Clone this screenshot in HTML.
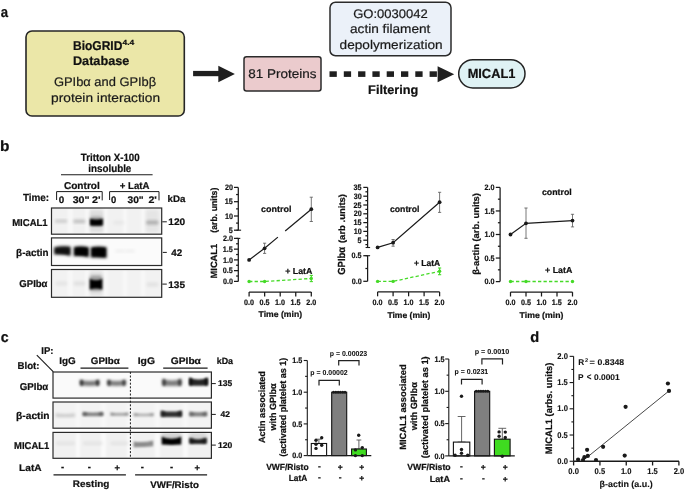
<!DOCTYPE html>
<html><head><meta charset="utf-8"><title>Figure</title>
<style>html,body{margin:0;padding:0;background:#fff;width:685px;height:491px;overflow:hidden}svg{display:block}</style>
</head><body>
<svg width="685" height="491" viewBox="0 0 685 491" font-family="'Liberation Sans', Arial, sans-serif" font-weight="700" text-rendering="geometricPrecision">
<defs>
<filter id="bl1" x="-50%" y="-50%" width="200%" height="200%"><feGaussianBlur stdDeviation="1.2"/></filter>
<filter id="bl2" x="-50%" y="-50%" width="200%" height="200%"><feGaussianBlur stdDeviation="1.8"/></filter>
<filter id="bl15" x="-50%" y="-50%" width="200%" height="200%"><feGaussianBlur stdDeviation="1.5"/></filter>
<filter id="bl3" x="-50%" y="-50%" width="200%" height="200%"><feGaussianBlur stdDeviation="0.7"/></filter>
</defs>
<text x="0.81" y="16.6" font-size="14.8" textLength="7.31" lengthAdjust="spacingAndGlyphs" fill="#111" stroke="#111" stroke-width="0.22">a</text>
<rect x="26" y="31" width="158.3" height="85" rx="6" fill="#EBE7A8" stroke="#262626" stroke-width="1.6"/>
<text x="72.99" y="49.5" font-size="12.8" textLength="49.4" lengthAdjust="spacingAndGlyphs" fill="#111" stroke="#111" stroke-width="0.22">BioGRID</text>
<text x="122.47" y="44.9" font-size="7.3" textLength="11.77" lengthAdjust="spacingAndGlyphs" fill="#111" stroke="#111" stroke-width="0.22">4.4</text>
<text x="72.94" y="64.5" font-size="12.5" textLength="56.39" lengthAdjust="spacingAndGlyphs" fill="#111" stroke="#111" stroke-width="0.22">Database</text>
<text x="53.96" y="86.1" font-size="12.5" font-weight="400" textLength="102.26" lengthAdjust="spacingAndGlyphs" fill="#1a1a1a" stroke="#1a1a1a" stroke-width="0.2">GPIbα and GPIbβ</text>
<text x="51.11" y="101.9" font-size="12.5" font-weight="400" textLength="108.98" lengthAdjust="spacingAndGlyphs" fill="#1a1a1a" stroke="#1a1a1a" stroke-width="0.2">protein interaction</text>
<rect x="193.1" y="70.9" width="26" height="5.3" rx="0" fill="#1f1f1f" stroke="none" stroke-width="0"/>
<polygon points="218.3,65.7 234.9,74 218.3,82.3" fill="#1f1f1f"/>
<rect x="244" y="56.75" width="77" height="34.3" rx="2.5" fill="#EBCBCD" stroke="#2b2b2b" stroke-width="1.5"/>
<text x="248.33" y="78" font-size="12.6" font-weight="400" textLength="68.13" lengthAdjust="spacingAndGlyphs" fill="#1a1a1a" stroke="#1a1a1a" stroke-width="0.2">81 Proteins</text>
<rect x="330" y="2.25" width="121" height="53.5" rx="5.5" fill="#EBF1F9" stroke="#2b2b2b" stroke-width="1.5"/>
<text x="353.15" y="18" font-size="12.5" font-weight="400" textLength="74.63" lengthAdjust="spacingAndGlyphs" fill="#1a1a1a" stroke="#1a1a1a" stroke-width="0.2">GO:0030042</text>
<text x="350.02" y="33.2" font-size="12.5" font-weight="400" textLength="80.37" lengthAdjust="spacingAndGlyphs" fill="#1a1a1a" stroke="#1a1a1a" stroke-width="0.2">actin filament</text>
<text x="339.62" y="49" font-size="12.5" font-weight="400" textLength="102.96" lengthAdjust="spacingAndGlyphs" fill="#1a1a1a" stroke="#1a1a1a" stroke-width="0.2">depolymerization</text>
<rect x="329.5" y="71.3" width="7.3" height="5.6" rx="0" fill="#1f1f1f" stroke="none" stroke-width="0"/>
<rect x="343.8" y="71.3" width="7.3" height="5.6" rx="0" fill="#1f1f1f" stroke="none" stroke-width="0"/>
<rect x="358.1" y="71.3" width="7.3" height="5.6" rx="0" fill="#1f1f1f" stroke="none" stroke-width="0"/>
<rect x="372.4" y="71.3" width="7.3" height="5.6" rx="0" fill="#1f1f1f" stroke="none" stroke-width="0"/>
<rect x="386.7" y="71.3" width="7.3" height="5.6" rx="0" fill="#1f1f1f" stroke="none" stroke-width="0"/>
<rect x="401" y="71.3" width="7.3" height="5.6" rx="0" fill="#1f1f1f" stroke="none" stroke-width="0"/>
<rect x="415.3" y="71.3" width="7.3" height="5.6" rx="0" fill="#1f1f1f" stroke="none" stroke-width="0"/>
<rect x="429.6" y="71.3" width="7.3" height="5.6" rx="0" fill="#1f1f1f" stroke="none" stroke-width="0"/>
<polygon points="437.6,66.3 454.2,74.2 437.6,82.3" fill="#1f1f1f"/>
<text x="368.14" y="93.8" font-size="12.5" textLength="50.11" lengthAdjust="spacingAndGlyphs" fill="#111" stroke="#111" stroke-width="0.22">Filtering</text>
<rect x="458.7" y="59.7" width="66.3" height="28.2" rx="14.1" fill="#DFF2F4" stroke="#222" stroke-width="1.5"/>
<text x="467.63" y="77.9" font-size="13.2" textLength="47.75" lengthAdjust="spacingAndGlyphs" fill="#111" stroke="#111" stroke-width="0.22">MICAL1</text>
<text x="0.1" y="150.9" font-size="14.8" textLength="9.44" lengthAdjust="spacingAndGlyphs" fill="#111" stroke="#111" stroke-width="0.22">b</text>
<text x="80.8" y="160.9" font-size="10.5" textLength="58.9" lengthAdjust="spacingAndGlyphs" fill="#111" stroke="#111" stroke-width="0.22">Tritton X-100</text>
<text x="88.31" y="171.9" font-size="10.5" textLength="43.02" lengthAdjust="spacingAndGlyphs" fill="#111" stroke="#111" stroke-width="0.22">insoluble</text>
<line x1="61" y1="174.7" x2="152.6" y2="174.7" stroke="#1a1a1a" stroke-width="1.1"/>
<text x="63.9" y="188.9" font-size="10" textLength="35.91" lengthAdjust="spacingAndGlyphs" fill="#111" stroke="#111" stroke-width="0.22">Control</text>
<text x="119.69" y="188.9" font-size="10" textLength="29.77" lengthAdjust="spacingAndGlyphs" fill="#111" stroke="#111" stroke-width="0.22">+ LatA</text>
<path d="M56.6,200 V191.6 H102.2 V200.4" stroke="#1a1a1a" stroke-width="1" fill="none"/>
<path d="M109.6,200 V191.6 H159.0 V200.4" stroke="#1a1a1a" stroke-width="1" fill="none"/>
<text x="22.9" y="201.1" font-size="10.3" textLength="26.26" lengthAdjust="spacingAndGlyphs" fill="#111" stroke="#111" stroke-width="0.22">Time:</text>
<text x="58.8" y="202.8" font-size="9.5" textLength="5.5" lengthAdjust="spacingAndGlyphs" fill="#111" stroke="#111" stroke-width="0.22">0</text>
<text x="72.66" y="202.8" font-size="9.5" textLength="16.95" lengthAdjust="spacingAndGlyphs" fill="#111" stroke="#111" stroke-width="0.22">30"</text>
<text x="92.12" y="202.8" font-size="9.5" textLength="8.56" lengthAdjust="spacingAndGlyphs" fill="#111" stroke="#111" stroke-width="0.22">2'</text>
<text x="110.92" y="202.8" font-size="9.5" textLength="5.27" lengthAdjust="spacingAndGlyphs" fill="#111" stroke="#111" stroke-width="0.22">0</text>
<text x="127.47" y="202.8" font-size="9.5" textLength="16.21" lengthAdjust="spacingAndGlyphs" fill="#111" stroke="#111" stroke-width="0.22">30"</text>
<text x="148.43" y="202.8" font-size="9.5" textLength="8.45" lengthAdjust="spacingAndGlyphs" fill="#111" stroke="#111" stroke-width="0.22">2'</text>
<text x="167.62" y="202.2" font-size="9.5" textLength="17.83" lengthAdjust="spacingAndGlyphs" fill="#111" stroke="#111" stroke-width="0.22">kDa</text>
<rect x="51.2" y="207.6" width="111" height="26.7" rx="0" fill="#f1f1f1" stroke="none" stroke-width="0"/>
<rect x="67.8" y="208.6" width="4.8" height="24.7" fill="#f8f8f8" filter="url(#bl1)"/>
<rect x="85.2" y="208.6" width="4.4" height="24.7" fill="#f8f8f8" filter="url(#bl1)"/>
<rect x="103.6" y="208.6" width="4.4" height="24.7" fill="#f8f8f8" filter="url(#bl1)"/>
<rect x="123" y="208.6" width="4" height="24.7" fill="#f8f8f8" filter="url(#bl1)"/>
<rect x="141" y="208.6" width="4" height="24.7" fill="#f8f8f8" filter="url(#bl1)"/>
<rect x="51.2" y="237.7" width="111" height="28.1" rx="0" fill="#fbfbfb" stroke="none" stroke-width="0"/>
<rect x="51.2" y="269.3" width="111" height="28.2" rx="0" fill="#f2f2f2" stroke="none" stroke-width="0"/>
<rect x="67.8" y="270.3" width="4.8" height="26.2" fill="#f8f8f8" filter="url(#bl1)"/>
<rect x="85.2" y="270.3" width="4.4" height="26.2" fill="#f8f8f8" filter="url(#bl1)"/>
<rect x="103.6" y="270.3" width="4.4" height="26.2" fill="#f8f8f8" filter="url(#bl1)"/>
<rect x="123" y="270.3" width="4" height="26.2" fill="#f8f8f8" filter="url(#bl1)"/>
<rect x="141" y="270.3" width="4" height="26.2" fill="#f8f8f8" filter="url(#bl1)"/>
<rect x="89.6" y="210" width="13.6" height="22" rx="2" fill="#000" fill-opacity="0.08" filter="url(#bl2)"/>
<rect x="54.8" y="219.6" width="12.6" height="3.2" rx="1.5" fill="#000" fill-opacity="0.16" filter="url(#bl2)"/>
<rect x="73.2" y="219.6" width="12.2" height="3.6" rx="1.5" fill="#000" fill-opacity="0.2" filter="url(#bl2)"/>
<rect x="89.8" y="216.5" width="13.2" height="9.5" rx="3" fill="#000" fill-opacity="0.25" filter="url(#bl2)"/>
<path d="M90.0,218.8 Q96.4,220.4 102.8,218.8 L102.8,225.4 Q96.4,226 90.0,225.4 Z" fill="#000" fill-opacity="1" filter="url(#bl1)"/>
<rect x="146" y="220.6" width="12.6" height="3.8" rx="1.5" fill="#000" fill-opacity="0.24" filter="url(#bl2)"/>
<rect x="146" y="210" width="12.6" height="22" rx="2" fill="#000" fill-opacity="0.05" filter="url(#bl2)"/>
<rect x="113" y="220.8" width="12" height="3.8" rx="2" fill="#000" fill-opacity="0.04" filter="url(#bl2)"/>
<path d="M54.0,247.2 Q62,245.4 70.6,246.4 L70.6,256.0 Q62,254.2 54.0,254.6 Z" fill="#000" fill-opacity="0.88" filter="url(#bl15)"/>
<path d="M73.8,247.0 Q81,245.6 88.8,247.2 L88.8,257.2 Q81,255.8 73.8,256.2 Z" fill="#000" fill-opacity="1" filter="url(#bl15)"/>
<path d="M90.8,247.2 Q98.6,246.0 106.6,247.2 L106.6,258.0 Q98.6,257.2 90.8,257.6 Z" fill="#000" fill-opacity="1" filter="url(#bl15)"/>
<path d="M56,248.6 L69.6,248.2 L69.6,254.2 L56,253.2 Z" fill="#000" fill-opacity="0.5" filter="url(#bl1)"/>
<path d="M75.5,248.4 L87.5,248.4 L87.5,255.2 L75.5,254.6 Z" fill="#000" fill-opacity="0.6" filter="url(#bl1)"/>
<path d="M92.5,248.4 L105,248.4 L105,256 L92.5,255.6 Z" fill="#000" fill-opacity="0.6" filter="url(#bl1)"/>
<rect x="115" y="249.5" width="10" height="3" rx="2" fill="#000" fill-opacity="0.05" filter="url(#bl2)"/>
<rect x="125" y="249.5" width="10" height="3" rx="2" fill="#000" fill-opacity="0.05" filter="url(#bl2)"/>
<rect x="89.5" y="271" width="13" height="25" rx="2" fill="#000" fill-opacity="0.06" filter="url(#bl2)"/>
<rect x="89.6" y="275.5" width="12.8" height="15.5" rx="2.5" fill="#000" fill-opacity="0.3" filter="url(#bl2)"/>
<path d="M89.8,278.8 Q96,281.8 102.2,278.8 L102.2,289.4 Q96,287.4 89.8,289.4 Z" fill="#000" fill-opacity="1" filter="url(#bl1)"/>
<rect x="55.5" y="281.5" width="12" height="4" rx="2" fill="#000" fill-opacity="0.06" filter="url(#bl2)"/>
<rect x="73.5" y="281.5" width="12" height="4" rx="2" fill="#000" fill-opacity="0.08" filter="url(#bl2)"/>
<rect x="146.5" y="282.5" width="12" height="4" rx="2" fill="#000" fill-opacity="0.07" filter="url(#bl2)"/>
<rect x="51.5" y="208" width="110.2" height="26.2" rx="0" fill="none" stroke="#2b2b2b" stroke-width="1.2"/>
<rect x="51.5" y="237.9" width="110.2" height="27.6" rx="0" fill="none" stroke="#2b2b2b" stroke-width="1.2"/>
<rect x="51.5" y="269.5" width="110.2" height="27.8" rx="0" fill="none" stroke="#2b2b2b" stroke-width="1.2"/>
<text x="12.16" y="225.9" font-size="10" textLength="35.53" lengthAdjust="spacingAndGlyphs" fill="#111" stroke="#111" stroke-width="0.22">MICAL1</text>
<text x="16.11" y="255.8" font-size="10" textLength="32.38" lengthAdjust="spacingAndGlyphs" fill="#111" stroke="#111" stroke-width="0.22">β-actin</text>
<text x="19.32" y="287.3" font-size="10" textLength="28.19" lengthAdjust="spacingAndGlyphs" fill="#111" stroke="#111" stroke-width="0.22">GPIbα</text>
<line x1="162.3" y1="221.8" x2="166.8" y2="221.8" stroke="#1a1a1a" stroke-width="1"/>
<text x="168.27" y="225.2" font-size="9.5" textLength="16.95" lengthAdjust="spacingAndGlyphs" fill="#111" stroke="#111" stroke-width="0.22">120</text>
<line x1="162.8" y1="252.4" x2="166.8" y2="252.4" stroke="#1a1a1a" stroke-width="1"/>
<text x="171.25" y="255.9" font-size="9.5" textLength="10.94" lengthAdjust="spacingAndGlyphs" fill="#111" stroke="#111" stroke-width="0.22">42</text>
<line x1="162.3" y1="284.1" x2="166.8" y2="284.1" stroke="#1a1a1a" stroke-width="1"/>
<text x="168.27" y="287.9" font-size="9.5" textLength="16.82" lengthAdjust="spacingAndGlyphs" fill="#111" stroke="#111" stroke-width="0.22">135</text>
<line x1="238.3" y1="187.4" x2="238.3" y2="230.2" stroke="#1a1a1a" stroke-width="1.25"/>
<line x1="234" y1="187.4" x2="238.3" y2="187.4" stroke="#1a1a1a" stroke-width="1.25"/>
<line x1="234" y1="201.7" x2="238.3" y2="201.7" stroke="#1a1a1a" stroke-width="1.25"/>
<line x1="234" y1="216" x2="238.3" y2="216" stroke="#1a1a1a" stroke-width="1.25"/>
<line x1="234" y1="230.2" x2="238.3" y2="230.2" stroke="#1a1a1a" stroke-width="1.25"/>
<line x1="236.1" y1="194.55" x2="238.3" y2="194.55" stroke="#1a1a1a" stroke-width="1.25"/>
<line x1="236.1" y1="208.85" x2="238.3" y2="208.85" stroke="#1a1a1a" stroke-width="1.25"/>
<line x1="236.1" y1="223.1" x2="238.3" y2="223.1" stroke="#1a1a1a" stroke-width="1.25"/>
<line x1="236.5" y1="230.2" x2="241.1" y2="230.2" stroke="#1a1a1a" stroke-width="1.1"/>
<line x1="238.3" y1="238.4" x2="238.3" y2="281.4" stroke="#1a1a1a" stroke-width="1.25"/>
<line x1="234" y1="238.4" x2="238.3" y2="238.4" stroke="#1a1a1a" stroke-width="1.25"/>
<line x1="234" y1="249.15" x2="238.3" y2="249.15" stroke="#1a1a1a" stroke-width="1.25"/>
<line x1="234" y1="259.9" x2="238.3" y2="259.9" stroke="#1a1a1a" stroke-width="1.25"/>
<line x1="234" y1="270.65" x2="238.3" y2="270.65" stroke="#1a1a1a" stroke-width="1.25"/>
<line x1="234" y1="281.4" x2="238.3" y2="281.4" stroke="#1a1a1a" stroke-width="1.25"/>
<line x1="236.1" y1="243.78" x2="238.3" y2="243.78" stroke="#1a1a1a" stroke-width="1.25"/>
<line x1="236.1" y1="254.53" x2="238.3" y2="254.53" stroke="#1a1a1a" stroke-width="1.25"/>
<line x1="236.1" y1="265.27" x2="238.3" y2="265.27" stroke="#1a1a1a" stroke-width="1.25"/>
<line x1="236.1" y1="276.02" x2="238.3" y2="276.02" stroke="#1a1a1a" stroke-width="1.25"/>
<line x1="236.3" y1="238.4" x2="240.3" y2="238.4" stroke="#1a1a1a" stroke-width="1.1"/>
<text x="224.9" y="190.05" font-size="7.92" textLength="8.01" lengthAdjust="spacingAndGlyphs" fill="#111" stroke="#111" stroke-width="0.2">20</text>
<text x="224.81" y="204.35" font-size="7.92" textLength="8.01" lengthAdjust="spacingAndGlyphs" fill="#111" stroke="#111" stroke-width="0.2">15</text>
<text x="224.9" y="218.65" font-size="7.92" textLength="8.01" lengthAdjust="spacingAndGlyphs" fill="#111" stroke="#111" stroke-width="0.2">10</text>
<text x="228.8" y="232.85" font-size="7.92" textLength="4" lengthAdjust="spacingAndGlyphs" fill="#111" stroke="#111" stroke-width="0.2">5</text>
<text x="222.88" y="241.05" font-size="7.92" textLength="10.01" lengthAdjust="spacingAndGlyphs" fill="#111" stroke="#111" stroke-width="0.2">2.0</text>
<text x="222.79" y="251.8" font-size="7.92" textLength="10.01" lengthAdjust="spacingAndGlyphs" fill="#111" stroke="#111" stroke-width="0.2">1.5</text>
<text x="222.88" y="262.55" font-size="7.92" textLength="10.01" lengthAdjust="spacingAndGlyphs" fill="#111" stroke="#111" stroke-width="0.2">1.0</text>
<text x="222.79" y="273.3" font-size="7.92" textLength="10.01" lengthAdjust="spacingAndGlyphs" fill="#111" stroke="#111" stroke-width="0.2">0.5</text>
<text x="222.88" y="284.05" font-size="7.92" textLength="10.01" lengthAdjust="spacingAndGlyphs" fill="#111" stroke="#111" stroke-width="0.2">0.0</text>
<line x1="249.1" y1="292" x2="311.3" y2="292" stroke="#1a1a1a" stroke-width="1.25"/>
<line x1="249.1" y1="292" x2="249.1" y2="296.4" stroke="#1a1a1a" stroke-width="1.25"/>
<line x1="264.65" y1="292" x2="264.65" y2="296.4" stroke="#1a1a1a" stroke-width="1.25"/>
<line x1="280.2" y1="292" x2="280.2" y2="296.4" stroke="#1a1a1a" stroke-width="1.25"/>
<line x1="295.75" y1="292" x2="295.75" y2="296.4" stroke="#1a1a1a" stroke-width="1.25"/>
<line x1="311.3" y1="292" x2="311.3" y2="296.4" stroke="#1a1a1a" stroke-width="1.25"/>
<text x="244.1" y="305.1" font-size="7.92" textLength="10.01" lengthAdjust="spacingAndGlyphs" fill="#111" stroke="#111" stroke-width="0.2">0.0</text>
<text x="259.6" y="305.1" font-size="7.92" textLength="10.01" lengthAdjust="spacingAndGlyphs" fill="#111" stroke="#111" stroke-width="0.2">0.5</text>
<text x="275.12" y="305.1" font-size="7.92" textLength="10.01" lengthAdjust="spacingAndGlyphs" fill="#111" stroke="#111" stroke-width="0.2">1.0</text>
<text x="290.62" y="305.1" font-size="7.92" textLength="10.01" lengthAdjust="spacingAndGlyphs" fill="#111" stroke="#111" stroke-width="0.2">1.5</text>
<text x="306.31" y="305.1" font-size="7.92" textLength="10.01" lengthAdjust="spacingAndGlyphs" fill="#111" stroke="#111" stroke-width="0.2">2.0</text>
<text x="258.61" y="317.4" font-size="8.4" textLength="43.42" lengthAdjust="spacingAndGlyphs" fill="#111" stroke="#111" stroke-width="0.22">Time (min)</text>
<text transform="translate(217.2 277.8) rotate(-90)" x="-0.63" y="0" font-size="9" textLength="34.6" lengthAdjust="spacingAndGlyphs" fill="#111" stroke="#111" stroke-width="0.22">MICAL1</text>
<text transform="translate(217.2 232.2) rotate(-90)" x="-0.44" y="0" font-size="9" textLength="44.99" lengthAdjust="spacingAndGlyphs" fill="#111" stroke="#111" stroke-width="0.22">(arb. units)</text>
<line x1="264.6" y1="243.2" x2="264.6" y2="253.4" stroke="#555" stroke-width="0.8"/>
<line x1="263" y1="243.2" x2="266.2" y2="243.2" stroke="#555" stroke-width="0.8"/>
<line x1="263" y1="253.4" x2="266.2" y2="253.4" stroke="#555" stroke-width="0.8"/>
<line x1="311.3" y1="197.2" x2="311.3" y2="221.5" stroke="#555" stroke-width="0.8"/>
<line x1="309.7" y1="197.2" x2="312.9" y2="197.2" stroke="#555" stroke-width="0.8"/>
<line x1="309.7" y1="221.5" x2="312.9" y2="221.5" stroke="#555" stroke-width="0.8"/>
<polyline points="249.1,259.9 264.6,248.3 277.9,237.1" fill="none" stroke="#1a1a1a" stroke-width="1.2"/>
<polyline points="285.2,231 311.3,209.2" fill="none" stroke="#1a1a1a" stroke-width="1.2"/>
<circle cx="249.1" cy="259.9" r="1.9" fill="#1a1a1a"/>
<circle cx="264.6" cy="248.3" r="1.9" fill="#1a1a1a"/>
<circle cx="311.3" cy="209.2" r="1.9" fill="#1a1a1a"/>
<line x1="311.3" y1="275.4" x2="311.3" y2="281.6" stroke="#45DA27" stroke-width="1.1"/>
<line x1="309.7" y1="275.4" x2="312.9" y2="275.4" stroke="#45DA27" stroke-width="1.1"/>
<line x1="309.7" y1="281.6" x2="312.9" y2="281.6" stroke="#45DA27" stroke-width="1.1"/>
<polyline points="249.1,281.5 264.6,281.5 311.3,278.5" fill="none" stroke="#45DA27" stroke-width="1.3" stroke-dasharray="3.3 2.2"/>
<circle cx="249.1" cy="281.5" r="1.7" fill="#45DA27"/>
<circle cx="264.6" cy="281.5" r="1.7" fill="#45DA27"/>
<circle cx="311.3" cy="278.5" r="1.7" fill="#45DA27"/>
<text x="261.04" y="212.4" font-size="8.7" textLength="30.4" lengthAdjust="spacingAndGlyphs" fill="#111" stroke="#111" stroke-width="0.22">control</text>
<text x="285.23" y="274" font-size="8.7" textLength="27.11" lengthAdjust="spacingAndGlyphs" fill="#111" stroke="#111" stroke-width="0.22">+ LatA</text>
<line x1="367.6" y1="187.4" x2="367.6" y2="247.5" stroke="#1a1a1a" stroke-width="1.25"/>
<line x1="363.3" y1="187.4" x2="367.6" y2="187.4" stroke="#1a1a1a" stroke-width="1.25"/>
<line x1="363.3" y1="196.2" x2="367.6" y2="196.2" stroke="#1a1a1a" stroke-width="1.25"/>
<line x1="363.3" y1="205" x2="367.6" y2="205" stroke="#1a1a1a" stroke-width="1.25"/>
<line x1="363.3" y1="213.8" x2="367.6" y2="213.8" stroke="#1a1a1a" stroke-width="1.25"/>
<line x1="363.3" y1="222.6" x2="367.6" y2="222.6" stroke="#1a1a1a" stroke-width="1.25"/>
<line x1="363.3" y1="231.4" x2="367.6" y2="231.4" stroke="#1a1a1a" stroke-width="1.25"/>
<line x1="363.3" y1="240.2" x2="367.6" y2="240.2" stroke="#1a1a1a" stroke-width="1.25"/>
<line x1="365.4" y1="191.8" x2="367.6" y2="191.8" stroke="#1a1a1a" stroke-width="1.25"/>
<line x1="365.4" y1="200.6" x2="367.6" y2="200.6" stroke="#1a1a1a" stroke-width="1.25"/>
<line x1="365.4" y1="209.4" x2="367.6" y2="209.4" stroke="#1a1a1a" stroke-width="1.25"/>
<line x1="365.4" y1="218.2" x2="367.6" y2="218.2" stroke="#1a1a1a" stroke-width="1.25"/>
<line x1="365.4" y1="227" x2="367.6" y2="227" stroke="#1a1a1a" stroke-width="1.25"/>
<line x1="365.4" y1="235.8" x2="367.6" y2="235.8" stroke="#1a1a1a" stroke-width="1.25"/>
<line x1="365.4" y1="244.6" x2="367.6" y2="244.6" stroke="#1a1a1a" stroke-width="1.25"/>
<line x1="365.6" y1="247.5" x2="370.1" y2="247.5" stroke="#1a1a1a" stroke-width="1.1"/>
<text x="353.61" y="190.05" font-size="7.92" textLength="8.01" lengthAdjust="spacingAndGlyphs" fill="#111" stroke="#111" stroke-width="0.2">35</text>
<text x="353.7" y="198.85" font-size="7.92" textLength="8.01" lengthAdjust="spacingAndGlyphs" fill="#111" stroke="#111" stroke-width="0.2">30</text>
<text x="353.61" y="207.65" font-size="7.92" textLength="8.01" lengthAdjust="spacingAndGlyphs" fill="#111" stroke="#111" stroke-width="0.2">25</text>
<text x="353.7" y="216.45" font-size="7.92" textLength="8.01" lengthAdjust="spacingAndGlyphs" fill="#111" stroke="#111" stroke-width="0.2">20</text>
<text x="353.61" y="225.25" font-size="7.92" textLength="8.01" lengthAdjust="spacingAndGlyphs" fill="#111" stroke="#111" stroke-width="0.2">15</text>
<text x="353.7" y="234.05" font-size="7.92" textLength="8.01" lengthAdjust="spacingAndGlyphs" fill="#111" stroke="#111" stroke-width="0.2">10</text>
<text x="357.6" y="242.85" font-size="7.92" textLength="4" lengthAdjust="spacingAndGlyphs" fill="#111" stroke="#111" stroke-width="0.2">5</text>
<line x1="367.6" y1="255.7" x2="367.6" y2="281.3" stroke="#1a1a1a" stroke-width="1.25"/>
<line x1="363.3" y1="255.7" x2="367.6" y2="255.7" stroke="#1a1a1a" stroke-width="1.25"/>
<line x1="363.3" y1="281.3" x2="367.6" y2="281.3" stroke="#1a1a1a" stroke-width="1.25"/>
<line x1="365.4" y1="268.5" x2="367.6" y2="268.5" stroke="#1a1a1a" stroke-width="1.25"/>
<line x1="365.6" y1="255.7" x2="370.1" y2="255.7" stroke="#1a1a1a" stroke-width="1.1"/>
<text x="351.59" y="258.35" font-size="7.92" textLength="10.01" lengthAdjust="spacingAndGlyphs" fill="#111" stroke="#111" stroke-width="0.2">0.5</text>
<text x="351.68" y="283.95" font-size="7.92" textLength="10.01" lengthAdjust="spacingAndGlyphs" fill="#111" stroke="#111" stroke-width="0.2">0.0</text>
<line x1="377.6" y1="291.9" x2="439.6" y2="291.9" stroke="#1a1a1a" stroke-width="1.25"/>
<line x1="377.6" y1="291.9" x2="377.6" y2="296.3" stroke="#1a1a1a" stroke-width="1.25"/>
<line x1="393.1" y1="291.9" x2="393.1" y2="296.3" stroke="#1a1a1a" stroke-width="1.25"/>
<line x1="408.6" y1="291.9" x2="408.6" y2="296.3" stroke="#1a1a1a" stroke-width="1.25"/>
<line x1="424.1" y1="291.9" x2="424.1" y2="296.3" stroke="#1a1a1a" stroke-width="1.25"/>
<line x1="439.6" y1="291.9" x2="439.6" y2="296.3" stroke="#1a1a1a" stroke-width="1.25"/>
<text x="372.6" y="305.2" font-size="7.92" textLength="10.01" lengthAdjust="spacingAndGlyphs" fill="#111" stroke="#111" stroke-width="0.2">0.0</text>
<text x="388.05" y="305.2" font-size="7.92" textLength="10.01" lengthAdjust="spacingAndGlyphs" fill="#111" stroke="#111" stroke-width="0.2">0.5</text>
<text x="403.52" y="305.2" font-size="7.92" textLength="10.01" lengthAdjust="spacingAndGlyphs" fill="#111" stroke="#111" stroke-width="0.2">1.0</text>
<text x="418.97" y="305.2" font-size="7.92" textLength="10.01" lengthAdjust="spacingAndGlyphs" fill="#111" stroke="#111" stroke-width="0.2">1.5</text>
<text x="434.61" y="305.2" font-size="7.92" textLength="10.01" lengthAdjust="spacingAndGlyphs" fill="#111" stroke="#111" stroke-width="0.2">2.0</text>
<text x="387.41" y="317.5" font-size="8.4" textLength="43.01" lengthAdjust="spacingAndGlyphs" fill="#111" stroke="#111" stroke-width="0.22">Time (min)</text>
<text transform="translate(345.4 274.4) rotate(-90)" x="-0.38" y="0" font-size="10.3" textLength="27.88" lengthAdjust="spacingAndGlyphs" fill="#111" stroke="#111" stroke-width="0.22">GPIbα</text>
<text transform="translate(345.2 242.6) rotate(-90)" x="-0.47" y="0" font-size="9" textLength="49.07" lengthAdjust="spacingAndGlyphs" fill="#111" stroke="#111" stroke-width="0.22">(arb .units)</text>
<line x1="393.1" y1="239.5" x2="393.1" y2="246.2" stroke="#555" stroke-width="0.8"/>
<line x1="391.5" y1="239.5" x2="394.7" y2="239.5" stroke="#555" stroke-width="0.8"/>
<line x1="391.5" y1="246.2" x2="394.7" y2="246.2" stroke="#555" stroke-width="0.8"/>
<line x1="439.6" y1="192.3" x2="439.6" y2="212.4" stroke="#555" stroke-width="0.8"/>
<line x1="438" y1="192.3" x2="441.2" y2="192.3" stroke="#555" stroke-width="0.8"/>
<line x1="438" y1="212.4" x2="441.2" y2="212.4" stroke="#555" stroke-width="0.8"/>
<polyline points="377.6,247.4 393.1,242.7 439.6,202.2" fill="none" stroke="#1a1a1a" stroke-width="1.2"/>
<circle cx="377.6" cy="247.4" r="1.9" fill="#1a1a1a"/>
<circle cx="393.1" cy="242.7" r="1.9" fill="#1a1a1a"/>
<circle cx="439.6" cy="202.2" r="1.9" fill="#1a1a1a"/>
<line x1="439.6" y1="268" x2="439.6" y2="274.7" stroke="#45DA27" stroke-width="1.1"/>
<line x1="438" y1="268" x2="441.2" y2="268" stroke="#45DA27" stroke-width="1.1"/>
<line x1="438" y1="274.7" x2="441.2" y2="274.7" stroke="#45DA27" stroke-width="1.1"/>
<polyline points="377.6,281.4 393.1,281.4 439.6,271.3" fill="none" stroke="#45DA27" stroke-width="1.3" stroke-dasharray="3.3 2.2"/>
<circle cx="377.6" cy="281.4" r="1.7" fill="#45DA27"/>
<circle cx="393.1" cy="281.4" r="1.7" fill="#45DA27"/>
<circle cx="439.6" cy="271.3" r="1.7" fill="#45DA27"/>
<text x="389.95" y="212.4" font-size="8.7" textLength="29.47" lengthAdjust="spacingAndGlyphs" fill="#111" stroke="#111" stroke-width="0.22">control</text>
<text x="414.04" y="265.6" font-size="8.7" textLength="26.19" lengthAdjust="spacingAndGlyphs" fill="#111" stroke="#111" stroke-width="0.22">+ LatA</text>
<line x1="500.1" y1="187.4" x2="500.1" y2="281.6" stroke="#1a1a1a" stroke-width="1.25"/>
<line x1="495.8" y1="187.4" x2="500.1" y2="187.4" stroke="#1a1a1a" stroke-width="1.25"/>
<line x1="495.8" y1="210.95" x2="500.1" y2="210.95" stroke="#1a1a1a" stroke-width="1.25"/>
<line x1="495.8" y1="234.5" x2="500.1" y2="234.5" stroke="#1a1a1a" stroke-width="1.25"/>
<line x1="495.8" y1="258.05" x2="500.1" y2="258.05" stroke="#1a1a1a" stroke-width="1.25"/>
<line x1="495.8" y1="281.6" x2="500.1" y2="281.6" stroke="#1a1a1a" stroke-width="1.25"/>
<line x1="497.9" y1="199.18" x2="500.1" y2="199.18" stroke="#1a1a1a" stroke-width="1.25"/>
<line x1="497.9" y1="222.73" x2="500.1" y2="222.73" stroke="#1a1a1a" stroke-width="1.25"/>
<line x1="497.9" y1="246.28" x2="500.1" y2="246.28" stroke="#1a1a1a" stroke-width="1.25"/>
<line x1="497.9" y1="269.82" x2="500.1" y2="269.82" stroke="#1a1a1a" stroke-width="1.25"/>
<text x="484.48" y="190.05" font-size="7.92" textLength="10.01" lengthAdjust="spacingAndGlyphs" fill="#111" stroke="#111" stroke-width="0.2">2.0</text>
<text x="484.39" y="213.6" font-size="7.92" textLength="10.01" lengthAdjust="spacingAndGlyphs" fill="#111" stroke="#111" stroke-width="0.2">1.5</text>
<text x="484.48" y="237.15" font-size="7.92" textLength="10.01" lengthAdjust="spacingAndGlyphs" fill="#111" stroke="#111" stroke-width="0.2">1.0</text>
<text x="484.39" y="260.7" font-size="7.92" textLength="10.01" lengthAdjust="spacingAndGlyphs" fill="#111" stroke="#111" stroke-width="0.2">0.5</text>
<text x="484.48" y="284.25" font-size="7.92" textLength="10.01" lengthAdjust="spacingAndGlyphs" fill="#111" stroke="#111" stroke-width="0.2">0.0</text>
<line x1="510.5" y1="292.1" x2="572.5" y2="292.1" stroke="#1a1a1a" stroke-width="1.25"/>
<line x1="510.5" y1="292.1" x2="510.5" y2="296.5" stroke="#1a1a1a" stroke-width="1.25"/>
<line x1="526" y1="292.1" x2="526" y2="296.5" stroke="#1a1a1a" stroke-width="1.25"/>
<line x1="541.5" y1="292.1" x2="541.5" y2="296.5" stroke="#1a1a1a" stroke-width="1.25"/>
<line x1="557" y1="292.1" x2="557" y2="296.5" stroke="#1a1a1a" stroke-width="1.25"/>
<line x1="572.5" y1="292.1" x2="572.5" y2="296.5" stroke="#1a1a1a" stroke-width="1.25"/>
<text x="505.5" y="305.2" font-size="7.92" textLength="10.01" lengthAdjust="spacingAndGlyphs" fill="#111" stroke="#111" stroke-width="0.2">0.0</text>
<text x="520.95" y="305.2" font-size="7.92" textLength="10.01" lengthAdjust="spacingAndGlyphs" fill="#111" stroke="#111" stroke-width="0.2">0.5</text>
<text x="536.41" y="305.2" font-size="7.92" textLength="10.01" lengthAdjust="spacingAndGlyphs" fill="#111" stroke="#111" stroke-width="0.2">1.0</text>
<text x="551.87" y="305.2" font-size="7.92" textLength="10.01" lengthAdjust="spacingAndGlyphs" fill="#111" stroke="#111" stroke-width="0.2">1.5</text>
<text x="567.51" y="305.2" font-size="7.92" textLength="10.01" lengthAdjust="spacingAndGlyphs" fill="#111" stroke="#111" stroke-width="0.2">2.0</text>
<text x="519.61" y="317.7" font-size="8.4" textLength="43.72" lengthAdjust="spacingAndGlyphs" fill="#111" stroke="#111" stroke-width="0.22">Time (min)</text>
<text transform="translate(478.9 274.2) rotate(-90)" x="-0.66" y="0" font-size="9" textLength="81.82" lengthAdjust="spacingAndGlyphs" fill="#111" stroke="#111" stroke-width="0.22">β-actin (arb. units)</text>
<line x1="526" y1="208" x2="526" y2="238.3" stroke="#555" stroke-width="0.8"/>
<line x1="524.4" y1="208" x2="527.6" y2="208" stroke="#555" stroke-width="0.8"/>
<line x1="524.4" y1="238.3" x2="527.6" y2="238.3" stroke="#555" stroke-width="0.8"/>
<line x1="572.5" y1="214.3" x2="572.5" y2="226.9" stroke="#555" stroke-width="0.8"/>
<line x1="570.9" y1="214.3" x2="574.1" y2="214.3" stroke="#555" stroke-width="0.8"/>
<line x1="570.9" y1="226.9" x2="574.1" y2="226.9" stroke="#555" stroke-width="0.8"/>
<polyline points="510.5,234.5 526,223.3 572.5,220.6" fill="none" stroke="#1a1a1a" stroke-width="1.2"/>
<circle cx="510.5" cy="234.5" r="1.9" fill="#1a1a1a"/>
<circle cx="526" cy="223.3" r="1.9" fill="#1a1a1a"/>
<circle cx="572.5" cy="220.6" r="1.9" fill="#1a1a1a"/>
<polyline points="510.5,281.5 526,281.5 572.5,281.5" fill="none" stroke="#45DA27" stroke-width="1.3" stroke-dasharray="3.3 2.2"/>
<circle cx="510.5" cy="281.5" r="1.7" fill="#45DA27"/>
<circle cx="526" cy="281.5" r="1.7" fill="#45DA27"/>
<circle cx="572.5" cy="281.5" r="1.7" fill="#45DA27"/>
<text x="541.95" y="195.4" font-size="8.7" textLength="29.88" lengthAdjust="spacingAndGlyphs" fill="#111" stroke="#111" stroke-width="0.22">control</text>
<text x="545.13" y="273.1" font-size="8.7" textLength="27.11" lengthAdjust="spacingAndGlyphs" fill="#111" stroke="#111" stroke-width="0.22">+ LatA</text>
<text x="0.73" y="341.7" font-size="14.8" textLength="7.87" lengthAdjust="spacingAndGlyphs" fill="#111" stroke="#111" stroke-width="0.22">c</text>
<text x="41.36" y="354.2" font-size="9.8" textLength="12.15" lengthAdjust="spacingAndGlyphs" fill="#111" stroke="#111" stroke-width="0.22">IP:</text>
<text x="17.55" y="368.8" font-size="9.8" textLength="21.96" lengthAdjust="spacingAndGlyphs" fill="#111" stroke="#111" stroke-width="0.22">Blot:</text>
<line x1="36.8" y1="355.1" x2="53.4" y2="371.9" stroke="#1a1a1a" stroke-width="1.1"/>
<text x="59.23" y="364" font-size="9.5" textLength="16.5" lengthAdjust="spacingAndGlyphs" fill="#111" stroke="#111" stroke-width="0.22">IgG</text>
<text x="90.81" y="364" font-size="9.5" textLength="28.9" lengthAdjust="spacingAndGlyphs" fill="#111" stroke="#111" stroke-width="0.22">GPIbα</text>
<text x="137.7" y="364" font-size="9.5" textLength="17.26" lengthAdjust="spacingAndGlyphs" fill="#111" stroke="#111" stroke-width="0.22">IgG</text>
<text x="170.79" y="364" font-size="9.5" textLength="30.12" lengthAdjust="spacingAndGlyphs" fill="#111" stroke="#111" stroke-width="0.22">GPIbα</text>
<text x="216.78" y="364.1" font-size="9" textLength="16.27" lengthAdjust="spacingAndGlyphs" fill="#111" stroke="#111" stroke-width="0.22">kDa</text>
<line x1="80.5" y1="368.1" x2="128.4" y2="368.1" stroke="#1a1a1a" stroke-width="1.2"/>
<line x1="163.2" y1="368.1" x2="207.6" y2="368.1" stroke="#1a1a1a" stroke-width="1.2"/>
<rect x="53.1" y="371.9" width="158.1" height="26.3" rx="0" fill="#fafafa" stroke="none" stroke-width="0"/>
<rect x="53.1" y="402.1" width="158.1" height="26.2" rx="0" fill="#f3f3f3" stroke="none" stroke-width="0"/>
<rect x="76" y="403.1" width="4" height="24.2" fill="#f8f8f8" filter="url(#bl1)"/>
<rect x="101" y="403.1" width="5" height="24.2" fill="#f8f8f8" filter="url(#bl1)"/>
<rect x="127" y="403.1" width="5.5" height="24.2" fill="#f8f8f8" filter="url(#bl1)"/>
<rect x="155" y="403.1" width="5" height="24.2" fill="#f8f8f8" filter="url(#bl1)"/>
<rect x="183" y="403.1" width="5" height="24.2" fill="#f8f8f8" filter="url(#bl1)"/>
<rect x="53.1" y="432.2" width="158.1" height="26.1" rx="0" fill="#f1f1f1" stroke="none" stroke-width="0"/>
<rect x="76" y="433.2" width="4" height="24.1" fill="#fafafa" filter="url(#bl1)"/>
<rect x="101" y="433.2" width="5" height="24.1" fill="#fafafa" filter="url(#bl1)"/>
<rect x="127" y="433.2" width="5.5" height="24.1" fill="#fafafa" filter="url(#bl1)"/>
<rect x="155" y="433.2" width="5" height="24.1" fill="#fafafa" filter="url(#bl1)"/>
<rect x="183" y="433.2" width="5" height="24.1" fill="#fafafa" filter="url(#bl1)"/>
<path d="M79.8,379.4 Q89.6,382.6 99.4,379.4 L99.4,385.6 Q89.6,386.2 79.8,385.6 Z" fill="#000" fill-opacity="0.52" filter="url(#bl15)"/>
<ellipse cx="81.6" cy="382.8" rx="1.8" ry="3.1" fill="#000" fill-opacity="0.55" filter="url(#bl1)"/>
<ellipse cx="97.6" cy="382.8" rx="1.8" ry="3.1" fill="#000" fill-opacity="0.55" filter="url(#bl1)"/>
<path d="M107.2,379.4 Q116.5,382.6 125.8,379.4 L125.8,385.6 Q116.5,386.2 107.2,385.6 Z" fill="#000" fill-opacity="0.5" filter="url(#bl15)"/>
<ellipse cx="109" cy="382.8" rx="1.8" ry="3.1" fill="#000" fill-opacity="0.5" filter="url(#bl1)"/>
<ellipse cx="124" cy="382.8" rx="1.8" ry="3.1" fill="#000" fill-opacity="0.5" filter="url(#bl1)"/>
<path d="M162.2,378.6 Q171.9,382.6 181.6,378.6 L181.6,385.8 Q171.9,386.4 162.2,385.8 Z" fill="#000" fill-opacity="0.5" filter="url(#bl15)"/>
<ellipse cx="164" cy="382.5" rx="1.8" ry="3.6" fill="#000" fill-opacity="0.5" filter="url(#bl1)"/>
<ellipse cx="179.8" cy="382.5" rx="1.8" ry="3.6" fill="#000" fill-opacity="0.5" filter="url(#bl1)"/>
<path d="M189,377.6 Q198.5,381.6 208,377.6 L208,385.4 Q198.5,386 189,385.4 Z" fill="#000" fill-opacity="0.85" filter="url(#bl1)"/>
<ellipse cx="190.8" cy="381.8" rx="1.8" ry="3.9" fill="#000" fill-opacity="0.6" filter="url(#bl1)"/>
<ellipse cx="206.2" cy="381.8" rx="1.8" ry="3.9" fill="#000" fill-opacity="0.6" filter="url(#bl1)"/>
<path d="M55.6,413.6 Q65.3,414.8 75,413.6 L75,416.8 Q65.3,417.4 55.6,416.8 Z" fill="#000" fill-opacity="0.18" filter="url(#bl2)"/>
<path d="M82.6,411.8 Q92.95,413.4 103.3,411.8 L103.3,416 Q92.95,416.6 82.6,416 Z" fill="#000" fill-opacity="0.45" filter="url(#bl1)"/>
<ellipse cx="84.8" cy="414.2" rx="2.6" ry="2.1" fill="#000" fill-opacity="0.25" filter="url(#bl1)"/>
<ellipse cx="101.1" cy="414.2" rx="2.6" ry="2.1" fill="#000" fill-opacity="0.25" filter="url(#bl1)"/>
<path d="M110.3,412.2 Q119.4,413.4 128.5,412.2 L128.5,415.8 Q119.4,416.4 110.3,415.8 Z" fill="#000" fill-opacity="0.28" filter="url(#bl1)"/>
<ellipse cx="112.5" cy="414.3" rx="2.6" ry="1.8" fill="#000" fill-opacity="0.1" filter="url(#bl1)"/>
<ellipse cx="126.3" cy="414.3" rx="2.6" ry="1.8" fill="#000" fill-opacity="0.1" filter="url(#bl1)"/>
<path d="M133.6,412.8 Q143.7,414 153.8,412.8 L153.8,416.2 Q143.7,416.8 133.6,416.2 Z" fill="#000" fill-opacity="0.24" filter="url(#bl1)"/>
<ellipse cx="135.8" cy="414.8" rx="2.6" ry="1.7" fill="#000" fill-opacity="0.1" filter="url(#bl1)"/>
<ellipse cx="151.6" cy="414.8" rx="2.6" ry="1.7" fill="#000" fill-opacity="0.1" filter="url(#bl1)"/>
<path d="M160.8,410.4 Q171.4,412.8 182,410.4 L182,416.8 Q171.4,417.4 160.8,416.8 Z" fill="#000" fill-opacity="0.8" filter="url(#bl1)"/>
<ellipse cx="163" cy="413.9" rx="2.6" ry="3.2" fill="#000" fill-opacity="0.3" filter="url(#bl1)"/>
<ellipse cx="179.8" cy="413.9" rx="2.6" ry="3.2" fill="#000" fill-opacity="0.3" filter="url(#bl1)"/>
<path d="M189.3,411.6 Q198.2,412.8 207.1,411.6 L207.1,416.2 Q198.2,416.8 189.3,416.2 Z" fill="#000" fill-opacity="0.45" filter="url(#bl1)"/>
<ellipse cx="191.5" cy="414.2" rx="2.6" ry="2.3" fill="#000" fill-opacity="0.2" filter="url(#bl1)"/>
<ellipse cx="204.9" cy="414.2" rx="2.6" ry="2.3" fill="#000" fill-opacity="0.2" filter="url(#bl1)"/>
<rect x="56" y="441.5" width="19" height="3.5" rx="1.5" fill="#000" fill-opacity="0.06" filter="url(#bl2)"/>
<rect x="83" y="441.5" width="20" height="3.5" rx="1.5" fill="#000" fill-opacity="0.06" filter="url(#bl2)"/>
<rect x="110.5" y="441.5" width="18" height="3.5" rx="1.5" fill="#000" fill-opacity="0.06" filter="url(#bl2)"/>
<path d="M133.6,441.5 Q143.4,443 153.2,440.5 L153.2,446.3 Q143.4,447.4 133.6,447.3 Z" fill="#000" fill-opacity="0.42" filter="url(#bl1)"/>
<rect x="161.5" y="432.8" width="20" height="7.2" rx="2" fill="#000" fill-opacity="0.12" filter="url(#bl2)"/>
<rect x="189.3" y="432.8" width="17.4" height="7.2" rx="2" fill="#000" fill-opacity="0.1" filter="url(#bl2)"/>
<path d="M161.7,436.8 Q171.5,440.8 181.3,436.8 L181.3,444.6 Q171.5,445.2 161.7,444.6 Z" fill="#000" fill-opacity="1" filter="url(#bl1)"/>
<path d="M189.3,437.8 Q198,440.6 206.7,437.8 L206.7,443.8 Q198,444.4 189.3,443.8 Z" fill="#000" fill-opacity="0.85" filter="url(#bl1)"/>
<ellipse cx="191.5" cy="441.1" rx="2.6" ry="3" fill="#000" fill-opacity="0.3" filter="url(#bl1)"/>
<ellipse cx="204.5" cy="441.1" rx="2.6" ry="3" fill="#000" fill-opacity="0.3" filter="url(#bl1)"/>
<rect x="53" y="372" width="158.4" height="26.1" rx="0" fill="none" stroke="#2b2b2b" stroke-width="1.2"/>
<rect x="53" y="402" width="158.4" height="26.2" rx="0" fill="none" stroke="#2b2b2b" stroke-width="1.2"/>
<rect x="53" y="432.4" width="158.4" height="25.9" rx="0" fill="none" stroke="#2b2b2b" stroke-width="1.2"/>
<line x1="130.4" y1="371.9" x2="130.4" y2="458.3" stroke="#1a1a1a" stroke-width="1" stroke-dasharray="2 1.6"/>
<text x="19.71" y="389.6" font-size="10" textLength="28.59" lengthAdjust="spacingAndGlyphs" fill="#111" stroke="#111" stroke-width="0.22">GPIbα</text>
<text x="16.08" y="418.5" font-size="10" textLength="33.53" lengthAdjust="spacingAndGlyphs" fill="#111" stroke="#111" stroke-width="0.22">β-actin</text>
<text x="14.06" y="448.6" font-size="10" textLength="35.22" lengthAdjust="spacingAndGlyphs" fill="#111" stroke="#111" stroke-width="0.22">MICAL1</text>
<line x1="211.3" y1="383.6" x2="215.8" y2="383.6" stroke="#1a1a1a" stroke-width="1"/>
<text x="217.97" y="386.3" font-size="8.3" textLength="14.17" lengthAdjust="spacingAndGlyphs" fill="#111" stroke="#111" stroke-width="0.22">135</text>
<line x1="211.3" y1="414.4" x2="215.8" y2="414.4" stroke="#1a1a1a" stroke-width="1"/>
<text x="220.57" y="417.2" font-size="8.3" textLength="9.47" lengthAdjust="spacingAndGlyphs" fill="#111" stroke="#111" stroke-width="0.22">42</text>
<line x1="211.3" y1="445.1" x2="215.8" y2="445.1" stroke="#1a1a1a" stroke-width="1"/>
<text x="217.96" y="448" font-size="8.3" textLength="14.29" lengthAdjust="spacingAndGlyphs" fill="#111" stroke="#111" stroke-width="0.22">120</text>
<text x="19.12" y="470.9" font-size="9.5" textLength="22.46" lengthAdjust="spacingAndGlyphs" fill="#111" stroke="#111" stroke-width="0.22">LatA</text>
<text x="61.12" y="469.6" font-size="9.5" textLength="3.16" lengthAdjust="spacingAndGlyphs" fill="#111" stroke="#111" stroke-width="0.22">-</text>
<text x="87.82" y="469.6" font-size="9.5" textLength="3.16" lengthAdjust="spacingAndGlyphs" fill="#111" stroke="#111" stroke-width="0.22">-</text>
<text x="114.52" y="470.6" font-size="9.5" textLength="5.55" lengthAdjust="spacingAndGlyphs" fill="#111" stroke="#111" stroke-width="0.22">+</text>
<text x="140.82" y="469.6" font-size="9.5" textLength="3.16" lengthAdjust="spacingAndGlyphs" fill="#111" stroke="#111" stroke-width="0.22">-</text>
<text x="169.92" y="469.6" font-size="9.5" textLength="3.16" lengthAdjust="spacingAndGlyphs" fill="#111" stroke="#111" stroke-width="0.22">-</text>
<text x="194.52" y="470.6" font-size="9.5" textLength="5.55" lengthAdjust="spacingAndGlyphs" fill="#111" stroke="#111" stroke-width="0.22">+</text>
<line x1="53.5" y1="474.9" x2="125.9" y2="474.9" stroke="#1a1a1a" stroke-width="1.2"/>
<line x1="135.1" y1="474.9" x2="207.1" y2="474.9" stroke="#1a1a1a" stroke-width="1.2"/>
<text x="72.83" y="487.3" font-size="9.5" textLength="36.52" lengthAdjust="spacingAndGlyphs" fill="#111" stroke="#111" stroke-width="0.22">Resting</text>
<text x="150.33" y="487.5" font-size="9.5" textLength="48.53" lengthAdjust="spacingAndGlyphs" fill="#111" stroke="#111" stroke-width="0.22">VWF/Risto</text>
<line x1="307.3" y1="360.5" x2="307.3" y2="455.6" stroke="#1a1a1a" stroke-width="1.1"/>
<line x1="303.7" y1="455.6" x2="307.3" y2="455.6" stroke="#1a1a1a" stroke-width="1.1"/>
<line x1="303.7" y1="423.9" x2="307.3" y2="423.9" stroke="#1a1a1a" stroke-width="1.1"/>
<line x1="303.7" y1="392.2" x2="307.3" y2="392.2" stroke="#1a1a1a" stroke-width="1.1"/>
<line x1="303.7" y1="360.5" x2="307.3" y2="360.5" stroke="#1a1a1a" stroke-width="1.1"/>
<line x1="305.1" y1="439.75" x2="307.3" y2="439.75" stroke="#1a1a1a" stroke-width="1.1"/>
<line x1="305.1" y1="408.05" x2="307.3" y2="408.05" stroke="#1a1a1a" stroke-width="1.1"/>
<line x1="305.1" y1="376.35" x2="307.3" y2="376.35" stroke="#1a1a1a" stroke-width="1.1"/>
<text x="292.28" y="458.25" font-size="7.92" textLength="10.01" lengthAdjust="spacingAndGlyphs" fill="#111" stroke="#111" stroke-width="0.2">0.0</text>
<text x="292.19" y="426.55" font-size="7.92" textLength="10.01" lengthAdjust="spacingAndGlyphs" fill="#111" stroke="#111" stroke-width="0.2">0.5</text>
<text x="292.28" y="394.85" font-size="7.92" textLength="10.01" lengthAdjust="spacingAndGlyphs" fill="#111" stroke="#111" stroke-width="0.2">1.0</text>
<text x="292.19" y="363.15" font-size="7.92" textLength="10.01" lengthAdjust="spacingAndGlyphs" fill="#111" stroke="#111" stroke-width="0.2">1.5</text>
<line x1="318.9" y1="439.2" x2="318.9" y2="443.5" stroke="#555" stroke-width="0.9"/>
<line x1="316.5" y1="439.2" x2="321.3" y2="439.2" stroke="#555" stroke-width="0.9"/>
<line x1="316.5" y1="443.5" x2="321.3" y2="443.5" stroke="#555" stroke-width="0.9"/>
<rect x="311.3" y="443.5" width="15.3" height="12.1" rx="0" fill="#fff" stroke="#111" stroke-width="1.1"/>
<rect x="331.7" y="392.2" width="15" height="63.4" rx="0" fill="#7f7f7f" stroke="#111" stroke-width="1.1"/>
<line x1="358.9" y1="440" x2="358.9" y2="449" stroke="#555" stroke-width="0.9"/>
<line x1="356.5" y1="440" x2="361.3" y2="440" stroke="#555" stroke-width="0.9"/>
<line x1="356.5" y1="449" x2="361.3" y2="449" stroke="#555" stroke-width="0.9"/>
<rect x="351.6" y="449" width="14.8" height="6.6" rx="0" fill="#3FDB20" stroke="#111" stroke-width="1.1"/>
<line x1="307.3" y1="455.6" x2="371.3" y2="455.6" stroke="#1a1a1a" stroke-width="1.2"/>
<circle cx="316" cy="440.2" r="1.7" fill="#1a1a1a"/>
<circle cx="321.7" cy="437.8" r="1.7" fill="#1a1a1a"/>
<circle cx="316" cy="444.3" r="1.7" fill="#1a1a1a"/>
<circle cx="321.7" cy="445.2" r="1.7" fill="#1a1a1a"/>
<circle cx="316" cy="448.4" r="1.7" fill="#1a1a1a"/>
<circle cx="333.5" cy="392.3" r="1.5" fill="#1a1a1a"/>
<circle cx="335.8" cy="392.3" r="1.5" fill="#1a1a1a"/>
<circle cx="338.1" cy="392.3" r="1.5" fill="#1a1a1a"/>
<circle cx="340.4" cy="392.3" r="1.5" fill="#1a1a1a"/>
<circle cx="342.7" cy="392.3" r="1.5" fill="#1a1a1a"/>
<circle cx="345" cy="392.3" r="1.5" fill="#1a1a1a"/>
<circle cx="358.7" cy="435.2" r="1.7" fill="#1a1a1a"/>
<circle cx="355.4" cy="449.9" r="1.7" fill="#1a1a1a"/>
<circle cx="362.3" cy="447.6" r="1.7" fill="#1a1a1a"/>
<circle cx="355.4" cy="455.6" r="1.7" fill="#1a1a1a"/>
<circle cx="362.3" cy="455.6" r="1.7" fill="#1a1a1a"/>
<path d="M319,385.6 V380.3 H339.3 V385.6" stroke="#222" stroke-width="1.2" fill="none"/>
<path d="M338.7,365.6 V360.6 H359 V365.6" stroke="#222" stroke-width="1.2" fill="none"/>
<text x="310.35" y="375.4" font-size="7.2" textLength="37.32" lengthAdjust="spacingAndGlyphs" fill="#111" stroke="#111" stroke-width="0.05">p = 0.00002</text>
<text x="329.75" y="355.7" font-size="7.2" textLength="37.4" lengthAdjust="spacingAndGlyphs" fill="#111" stroke="#111" stroke-width="0.05">p = 0.00023</text>
<text transform="translate(265.2 442.8) rotate(-90)" x="-0.23" y="0" font-size="9" textLength="71.91" lengthAdjust="spacingAndGlyphs" fill="#111" stroke="#111" stroke-width="0.22">Actin associated</text>
<text transform="translate(275.9 430.6) rotate(-90)" x="0.02" y="0" font-size="9" textLength="47.07" lengthAdjust="spacingAndGlyphs" fill="#111" stroke="#111" stroke-width="0.22">with GPIbα</text>
<text transform="translate(286 456.4) rotate(-90)" x="-0.45" y="0" font-size="9.2" textLength="99.1" lengthAdjust="spacingAndGlyphs" fill="#111" stroke="#111" stroke-width="0.22">(activated platelet as 1)</text>
<text x="266.14" y="469.8" font-size="8.8" textLength="42.48" lengthAdjust="spacingAndGlyphs" fill="#111" stroke="#111" stroke-width="0.22">VWF/Risto</text>
<text x="288.64" y="481" font-size="8.8" textLength="18.59" lengthAdjust="spacingAndGlyphs" fill="#111" stroke="#111" stroke-width="0.22">LatA</text>
<text x="317.99" y="468.6" font-size="8.5" textLength="2.83" lengthAdjust="spacingAndGlyphs" fill="#111" stroke="#111" stroke-width="0.22">-</text>
<text x="337.71" y="469.6" font-size="8.5" textLength="4.96" lengthAdjust="spacingAndGlyphs" fill="#111" stroke="#111" stroke-width="0.22">+</text>
<text x="359.31" y="469.6" font-size="8.5" textLength="4.96" lengthAdjust="spacingAndGlyphs" fill="#111" stroke="#111" stroke-width="0.22">+</text>
<text x="317.99" y="480" font-size="8.5" textLength="2.83" lengthAdjust="spacingAndGlyphs" fill="#111" stroke="#111" stroke-width="0.22">-</text>
<text x="338.79" y="480" font-size="8.5" textLength="2.83" lengthAdjust="spacingAndGlyphs" fill="#111" stroke="#111" stroke-width="0.22">-</text>
<text x="359.31" y="481" font-size="8.5" textLength="4.96" lengthAdjust="spacingAndGlyphs" fill="#111" stroke="#111" stroke-width="0.22">+</text>
<line x1="448.8" y1="359" x2="448.8" y2="455.9" stroke="#1a1a1a" stroke-width="1.1"/>
<line x1="445.2" y1="455.9" x2="448.8" y2="455.9" stroke="#1a1a1a" stroke-width="1.1"/>
<line x1="445.2" y1="423.6" x2="448.8" y2="423.6" stroke="#1a1a1a" stroke-width="1.1"/>
<line x1="445.2" y1="391.3" x2="448.8" y2="391.3" stroke="#1a1a1a" stroke-width="1.1"/>
<line x1="445.2" y1="359" x2="448.8" y2="359" stroke="#1a1a1a" stroke-width="1.1"/>
<line x1="446.6" y1="439.75" x2="448.8" y2="439.75" stroke="#1a1a1a" stroke-width="1.1"/>
<line x1="446.6" y1="407.45" x2="448.8" y2="407.45" stroke="#1a1a1a" stroke-width="1.1"/>
<line x1="446.6" y1="375.15" x2="448.8" y2="375.15" stroke="#1a1a1a" stroke-width="1.1"/>
<text x="434.48" y="458.55" font-size="7.92" textLength="10.01" lengthAdjust="spacingAndGlyphs" fill="#111" stroke="#111" stroke-width="0.2">0.0</text>
<text x="434.39" y="426.25" font-size="7.92" textLength="10.01" lengthAdjust="spacingAndGlyphs" fill="#111" stroke="#111" stroke-width="0.2">0.5</text>
<text x="434.48" y="393.95" font-size="7.92" textLength="10.01" lengthAdjust="spacingAndGlyphs" fill="#111" stroke="#111" stroke-width="0.2">1.0</text>
<text x="434.39" y="361.65" font-size="7.92" textLength="10.01" lengthAdjust="spacingAndGlyphs" fill="#111" stroke="#111" stroke-width="0.2">1.5</text>
<line x1="461.6" y1="416.5" x2="461.6" y2="442.1" stroke="#555" stroke-width="0.9"/>
<line x1="457.7" y1="416.5" x2="465.5" y2="416.5" stroke="#555" stroke-width="0.9"/>
<line x1="457.7" y1="442.1" x2="465.5" y2="442.1" stroke="#555" stroke-width="0.9"/>
<rect x="453.4" y="442.1" width="16.4" height="13.8" rx="0" fill="#fff" stroke="#111" stroke-width="1.1"/>
<rect x="474.6" y="391.3" width="15.1" height="64.6" rx="0" fill="#7f7f7f" stroke="#111" stroke-width="1.1"/>
<line x1="502.3" y1="428.3" x2="502.3" y2="439.2" stroke="#555" stroke-width="0.9"/>
<line x1="498.4" y1="428.3" x2="506.2" y2="428.3" stroke="#555" stroke-width="0.9"/>
<line x1="498.4" y1="439.2" x2="506.2" y2="439.2" stroke="#555" stroke-width="0.9"/>
<rect x="494.4" y="439.2" width="15.7" height="16.7" rx="0" fill="#3FDB20" stroke="#111" stroke-width="1.1"/>
<line x1="448.8" y1="455.9" x2="514.8" y2="455.9" stroke="#1a1a1a" stroke-width="1.2"/>
<circle cx="461.5" cy="396.2" r="1.7" fill="#1a1a1a"/>
<circle cx="461.5" cy="449.5" r="1.7" fill="#1a1a1a"/>
<circle cx="461.5" cy="453.3" r="1.7" fill="#1a1a1a"/>
<circle cx="455.1" cy="455.2" r="1.7" fill="#1a1a1a"/>
<circle cx="467.7" cy="455.2" r="1.7" fill="#1a1a1a"/>
<circle cx="476.3" cy="391.3" r="1.5" fill="#1a1a1a"/>
<circle cx="478.6" cy="391.3" r="1.5" fill="#1a1a1a"/>
<circle cx="480.9" cy="391.3" r="1.5" fill="#1a1a1a"/>
<circle cx="483.2" cy="391.3" r="1.5" fill="#1a1a1a"/>
<circle cx="485.5" cy="391.3" r="1.5" fill="#1a1a1a"/>
<circle cx="487.8" cy="391.3" r="1.5" fill="#1a1a1a"/>
<circle cx="499.1" cy="431.9" r="1.7" fill="#1a1a1a"/>
<circle cx="505.3" cy="432.1" r="1.7" fill="#1a1a1a"/>
<circle cx="499.1" cy="436.3" r="1.7" fill="#1a1a1a"/>
<circle cx="505.3" cy="437.5" r="1.7" fill="#1a1a1a"/>
<circle cx="502.3" cy="456.3" r="1.7" fill="#1a1a1a"/>
<path d="M461.5,384.6 V379.4 H482.1 V384.6" stroke="#222" stroke-width="1.2" fill="none"/>
<path d="M481.9,364.4 V358.8 H502.5 V364.4" stroke="#222" stroke-width="1.2" fill="none"/>
<text x="454.55" y="374.4" font-size="7.2" textLength="33.66" lengthAdjust="spacingAndGlyphs" fill="#111" stroke="#111" stroke-width="0.05">p = 0.0231</text>
<text x="474.73" y="353.8" font-size="7.2" textLength="34.57" lengthAdjust="spacingAndGlyphs" fill="#111" stroke="#111" stroke-width="0.05">p = 0.0010</text>
<text transform="translate(405.5 449.2) rotate(-90)" x="-0.63" y="0" font-size="9" textLength="85.43" lengthAdjust="spacingAndGlyphs" fill="#111" stroke="#111" stroke-width="0.22">MICAL1 associated</text>
<text transform="translate(416.9 430.3) rotate(-90)" x="0.02" y="0" font-size="9" textLength="48.08" lengthAdjust="spacingAndGlyphs" fill="#111" stroke="#111" stroke-width="0.22">with GPIbα</text>
<text transform="translate(428 457.9) rotate(-90)" x="-0.46" y="0" font-size="9.2" textLength="102.02" lengthAdjust="spacingAndGlyphs" fill="#111" stroke="#111" stroke-width="0.22">(activated platelet as 1)</text>
<text x="407.23" y="470.4" font-size="8.8" textLength="43.39" lengthAdjust="spacingAndGlyphs" fill="#111" stroke="#111" stroke-width="0.22">VWF/Risto</text>
<text x="429.79" y="481.8" font-size="8.8" textLength="20.16" lengthAdjust="spacingAndGlyphs" fill="#111" stroke="#111" stroke-width="0.22">LatA</text>
<text x="460.09" y="469" font-size="8.5" textLength="2.83" lengthAdjust="spacingAndGlyphs" fill="#111" stroke="#111" stroke-width="0.22">-</text>
<text x="480.81" y="470" font-size="8.5" textLength="4.96" lengthAdjust="spacingAndGlyphs" fill="#111" stroke="#111" stroke-width="0.22">+</text>
<text x="502.81" y="470" font-size="8.5" textLength="4.96" lengthAdjust="spacingAndGlyphs" fill="#111" stroke="#111" stroke-width="0.22">+</text>
<text x="460.09" y="480.6" font-size="8.5" textLength="2.83" lengthAdjust="spacingAndGlyphs" fill="#111" stroke="#111" stroke-width="0.22">-</text>
<text x="481.89" y="480.6" font-size="8.5" textLength="2.83" lengthAdjust="spacingAndGlyphs" fill="#111" stroke="#111" stroke-width="0.22">-</text>
<text x="502.81" y="481.6" font-size="8.5" textLength="4.96" lengthAdjust="spacingAndGlyphs" fill="#111" stroke="#111" stroke-width="0.22">+</text>
<text x="530.21" y="341.9" font-size="14.8" textLength="8.95" lengthAdjust="spacingAndGlyphs" fill="#111" stroke="#111" stroke-width="0.22">d</text>
<line x1="573.6" y1="356.35" x2="573.6" y2="461.25" stroke="#1a1a1a" stroke-width="1.1"/>
<line x1="569.6" y1="461.25" x2="573.6" y2="461.25" stroke="#1a1a1a" stroke-width="1.1"/>
<line x1="569.6" y1="435.02" x2="573.6" y2="435.02" stroke="#1a1a1a" stroke-width="1.1"/>
<line x1="569.6" y1="408.8" x2="573.6" y2="408.8" stroke="#1a1a1a" stroke-width="1.1"/>
<line x1="569.6" y1="382.57" x2="573.6" y2="382.57" stroke="#1a1a1a" stroke-width="1.1"/>
<line x1="569.6" y1="356.35" x2="573.6" y2="356.35" stroke="#1a1a1a" stroke-width="1.1"/>
<line x1="571.4" y1="448.14" x2="573.6" y2="448.14" stroke="#1a1a1a" stroke-width="1.1"/>
<line x1="571.4" y1="421.91" x2="573.6" y2="421.91" stroke="#1a1a1a" stroke-width="1.1"/>
<line x1="571.4" y1="395.69" x2="573.6" y2="395.69" stroke="#1a1a1a" stroke-width="1.1"/>
<line x1="571.4" y1="369.46" x2="573.6" y2="369.46" stroke="#1a1a1a" stroke-width="1.1"/>
<text x="557.34" y="463.9" font-size="8.36" textLength="10.57" lengthAdjust="spacingAndGlyphs" fill="#111" stroke="#111" stroke-width="0.12">0.0</text>
<text x="557.25" y="437.67" font-size="8.36" textLength="10.57" lengthAdjust="spacingAndGlyphs" fill="#111" stroke="#111" stroke-width="0.12">0.5</text>
<text x="557.34" y="411.45" font-size="8.36" textLength="10.57" lengthAdjust="spacingAndGlyphs" fill="#111" stroke="#111" stroke-width="0.12">1.0</text>
<text x="557.25" y="385.22" font-size="8.36" textLength="10.57" lengthAdjust="spacingAndGlyphs" fill="#111" stroke="#111" stroke-width="0.12">1.5</text>
<text x="557.34" y="359" font-size="8.36" textLength="10.57" lengthAdjust="spacingAndGlyphs" fill="#111" stroke="#111" stroke-width="0.12">2.0</text>
<line x1="573.6" y1="461.25" x2="679" y2="461.25" stroke="#1a1a1a" stroke-width="1.3"/>
<line x1="573.6" y1="461.25" x2="573.6" y2="465.45" stroke="#1a1a1a" stroke-width="1.3"/>
<line x1="599.93" y1="461.25" x2="599.93" y2="465.45" stroke="#1a1a1a" stroke-width="1.3"/>
<line x1="626.25" y1="461.25" x2="626.25" y2="465.45" stroke="#1a1a1a" stroke-width="1.3"/>
<line x1="652.58" y1="461.25" x2="652.58" y2="465.45" stroke="#1a1a1a" stroke-width="1.3"/>
<line x1="678.9" y1="461.25" x2="678.9" y2="465.45" stroke="#1a1a1a" stroke-width="1.3"/>
<text x="568.32" y="473.8" font-size="8.36" textLength="10.57" lengthAdjust="spacingAndGlyphs" fill="#111" stroke="#111" stroke-width="0.12">0.0</text>
<text x="594.6" y="473.8" font-size="8.36" textLength="10.57" lengthAdjust="spacingAndGlyphs" fill="#111" stroke="#111" stroke-width="0.12">0.5</text>
<text x="620.88" y="473.8" font-size="8.36" textLength="10.57" lengthAdjust="spacingAndGlyphs" fill="#111" stroke="#111" stroke-width="0.12">1.0</text>
<text x="647.16" y="473.8" font-size="8.36" textLength="10.57" lengthAdjust="spacingAndGlyphs" fill="#111" stroke="#111" stroke-width="0.12">1.5</text>
<text x="673.64" y="473.8" font-size="8.36" textLength="10.57" lengthAdjust="spacingAndGlyphs" fill="#111" stroke="#111" stroke-width="0.12">2.0</text>
<text x="599.57" y="486.6" font-size="8.8" textLength="53.09" lengthAdjust="spacingAndGlyphs" fill="#111" stroke="#111" stroke-width="0.1">β-actin (a.u.)</text>
<text transform="translate(551.9 453.6) rotate(-90)" x="-0.64" y="0" font-size="9.4" textLength="91.71" lengthAdjust="spacingAndGlyphs" fill="#111" stroke="#111" stroke-width="0.22">MICAL1 (arbs. units)</text>
<line x1="583" y1="460.6" x2="669" y2="390.9" stroke="#333" stroke-width="0.9"/>
<circle cx="625.6" cy="406.8" r="2.1" fill="#1a1a1a"/>
<circle cx="578.1" cy="459.5" r="2.1" fill="#1a1a1a"/>
<circle cx="583" cy="460" r="2.1" fill="#1a1a1a"/>
<circle cx="584.4" cy="457.2" r="2.1" fill="#1a1a1a"/>
<circle cx="587.1" cy="449.8" r="2.1" fill="#1a1a1a"/>
<circle cx="587.8" cy="455.9" r="2.1" fill="#1a1a1a"/>
<circle cx="596" cy="460" r="2.1" fill="#1a1a1a"/>
<circle cx="603.1" cy="446.8" r="2.1" fill="#1a1a1a"/>
<circle cx="624.7" cy="455.6" r="2.1" fill="#1a1a1a"/>
<circle cx="667.9" cy="383.5" r="2.1" fill="#1a1a1a"/>
<circle cx="669" cy="390.9" r="2.1" fill="#1a1a1a"/>
<text x="578.15" y="365.3" font-size="8.3" textLength="5.94" lengthAdjust="spacingAndGlyphs" fill="#111" stroke="#111" stroke-width="0.08">R</text>
<text x="585.1" y="361.6" font-size="5.4" textLength="3.11" lengthAdjust="spacingAndGlyphs" fill="#111" stroke="#111" stroke-width="0.02">2</text>
<text x="589.61" y="365" font-size="8.3" textLength="5.37" lengthAdjust="spacingAndGlyphs" fill="#111" stroke="#111" stroke-width="0.08">=</text>
<text x="597.55" y="365.3" font-size="8.3" textLength="26.62" lengthAdjust="spacingAndGlyphs" fill="#111" stroke="#111" stroke-width="0.08">0.8348</text>
<text x="578.14" y="379.5" font-size="8.3" textLength="5.55" lengthAdjust="spacingAndGlyphs" fill="#111" stroke="#111" stroke-width="0.08">P</text>
<text x="586.66" y="379.7" font-size="9.6" textLength="4.67" lengthAdjust="spacingAndGlyphs" fill="#111" stroke="#111" stroke-width="0.08">&lt;</text>
<text x="593.96" y="379.5" font-size="8.3" textLength="25.78" lengthAdjust="spacingAndGlyphs" fill="#111" stroke="#111" stroke-width="0.08">0.0001</text>
</svg>
</body></html>
